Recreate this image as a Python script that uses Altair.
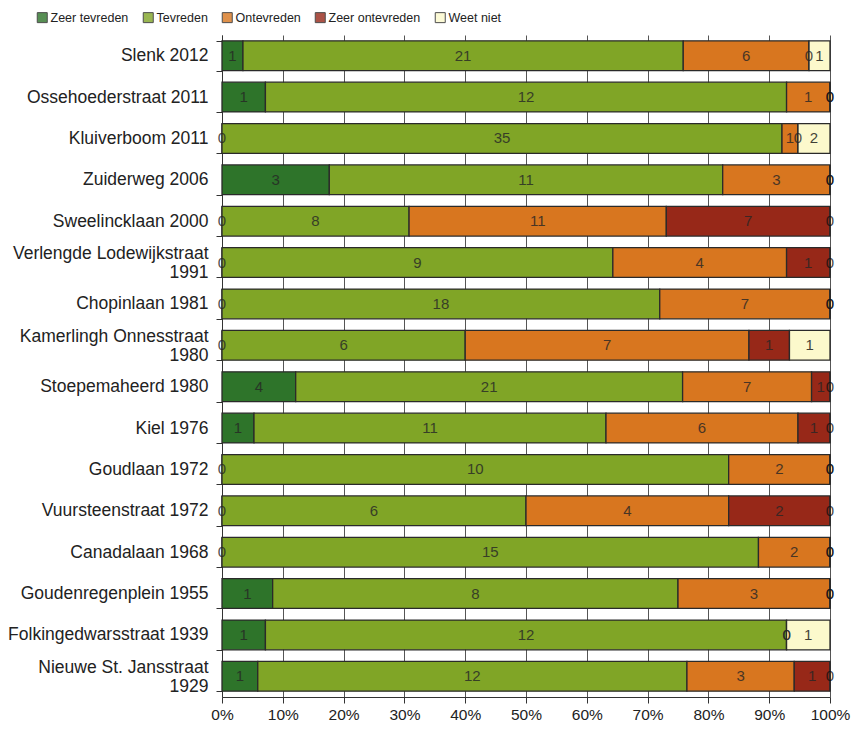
import altair as alt
import pandas as pd

categories = [
    "Slenk 2012", "Ossehoederstraat 2011", "Kluiverboom 2011", "Zuiderweg 2006",
    "Sweelincklaan 2000", "Verlengde Lodewijkstraat 1991", "Chopinlaan 1981",
    "Kamerlingh Onnesstraat 1980", "Stoepemaheerd 1980", "Kiel 1976",
    "Goudlaan 1972", "Vuursteenstraat 1972", "Canadalaan 1968",
    "Goudenregenplein 1955", "Folkingedwarsstraat 1939", "Nieuwe St. Jansstraat 1929",
]
series = ["Zeer tevreden", "Tevreden", "Ontevreden", "Zeer ontevreden", "Weet niet"]
zeer_tevreden = [1, 1, 0, 3, 0, 0, 0, 0, 4, 1, 0, 0, 0, 1, 1, 1]
tevreden = [21, 12, 35, 11, 8, 9, 18, 6, 21, 11, 10, 6, 15, 8, 12, 12]
ontevreden = [6, 1, 1, 3, 11, 4, 7, 7, 7, 6, 2, 4, 2, 3, 0, 3]
zeer_ontevreden = [0, 0, 0, 0, 7, 1, 0, 1, 1, 1, 0, 2, 0, 0, 0, 1]
weet_niet = [1, 0, 2, 0, 0, 0, 0, 1, 0, 0, 0, 0, 0, 0, 1, 0]
colors = ["#2e742a", "#80a526", "#d8761f", "#972818", "#fcf9cc"]

values = [zeer_tevreden, tevreden, ontevreden, zeer_ontevreden, weet_niet]
rows = []
for si, (s, vals) in enumerate(zip(series, values)):
    for c, v in zip(categories, vals):
        rows.append({"cat": c, "series": s, "ord": si, "value": v,
                     "tc": "#111111" if s == "Weet niet" else "#262626"})
df = pd.DataFrame(rows)

label_expr = ("length(datum.label) > 25 ? [substring(datum.label, 0, lastindexof(datum.label, ' ')),"
              " substring(datum.label, lastindexof(datum.label, ' ') + 1)] : datum.label")

y_enc = alt.Y(
    "cat:N", sort=categories, title=None,
    scale=alt.Scale(paddingInner=0.28, paddingOuter=0.14),
    axis=alt.Axis(tickBand="extent", tickSize=6, tickColor="#333333", labelFontSize=17.5,
                  labelPadding=8, labelLimit=0, labelLineHeight=19, labelColor="#222222",
                  labelOffset={"condition": {"test": "length(datum.label) > 25", "value": -9},
                               "value": 0},
                  domainColor="#333333", grid=False, labelExpr=label_expr),
)

base = alt.Chart(df)

bars = base.mark_bar(stroke="#2a2a2a", strokeWidth=1.3).encode(
    y=y_enc,
    x=alt.X("sum(value):Q", stack="normalize", title=None,
            scale=alt.Scale(domain=[0, 1], nice=False),
            axis=alt.Axis(format="%", values=[i / 10 for i in range(11)], grid=True,
                          gridColor="#555555", gridWidth=1, tickSize=6, tickColor="#333333",
                          domainColor="#333333", labelFontSize=15.5, labelPadding=4,
                          labelFlush=False, labelColor="#222222")),
    color=alt.Color("series:N", scale=alt.Scale(domain=series, range=colors),
                    legend=alt.Legend(title=None, orient="none", direction="horizontal",
                                      legendX=-186, legendY=-24, symbolType="square",
                                      symbolSize=100, symbolStrokeColor="#222222",
                                      symbolStrokeWidth=1, labelFontSize=12.5,
                                      columnPadding=12, labelOffset=2, labelColor="#222222")),
    order=alt.Order("ord:Q"),
)

text = base.transform_joinaggregate(
    total="sum(value)", groupby=["cat"]
).transform_window(
    cum="sum(value)", sort=[alt.SortField("ord")], groupby=["cat"], frame=[None, 0]
).transform_calculate(
    mid="(datum.cum - datum.value / 2) / datum.total"
).mark_text(fontSize=15, opacity=0.8).encode(
    y=alt.Y("cat:N", sort=categories),
    x=alt.X("mid:Q"),
    text=alt.Text("value:Q"),
    color=alt.Color("tc:N", scale=None),
)

chart = alt.layer(bars, text).properties(
    width=608, height=662,
    padding={"left": 214, "top": 27, "right": 21, "bottom": 25},
    autosize=alt.AutoSizeParams(type="none"),
).configure(font="Liberation Sans").configure_view(stroke=None)

chart.save("out.html", embed_options={"renderer": "svg", "actions": False})
